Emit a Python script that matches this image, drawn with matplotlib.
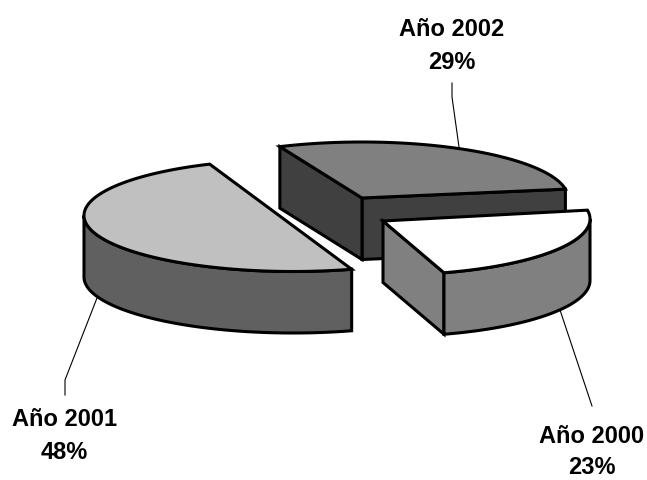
import numpy as np
import matplotlib
matplotlib.use("Agg")
import matplotlib.pyplot as plt
from matplotlib.patches import Polygon

plt.rcParams['font.family'] = ['Liberation Sans', 'DejaVu Sans']

# data
labels = ['Año 2001', 'Año 2000', 'Año 2002']
shares = [48, 23, 29]
pct_labels = ['48%', '23%', '29%']

# style
top_colors = ['#c0c0c0', '#ffffff', '#808080']
rim_colors = ['#606060', '#808080', '#404040']
centers = [(293, 215.5), (387, 219), (362, 198)]
apexes = [None, (383, 221), (362, 198)]
radii = [209, 203, 206]
RY, DEPTH = 56, 61.5
START = 113.5
LW = 2.2

fig = plt.figure(figsize=(6.47, 4.8), dpi=100)
ax = fig.add_axes([0, 0, 1, 1])
ax.set_xlim(0, 647)
ax.set_ylim(480, 0)
ax.axis('off')


def rim(c, rx, a0, a1, dz=0.0):
    t = np.radians(np.linspace(a0, a1, max(int(abs(a1 - a0)) * 2, 2)))
    return np.column_stack([c[0] + rx * np.cos(t), c[1] - RY * np.sin(t) + dz])


def poly(pts, color, z):
    ax.add_patch(Polygon(pts, closed=True, facecolor=color, edgecolor='black',
                         lw=LW, joinstyle='miter', zorder=z))


# leader lines (behind the pie)
leaders = [([97, 65, 65], [298, 380, 395]),
           ([560, 592], [310, 406]),
           ([459, 452, 452], [147, 97, 83])]
for xs, ys in leaders:
    ax.plot(xs, ys, color='black', lw=0.8, zorder=1)

# angular extent of each slice, from the shares
bounds = START + np.cumsum([0] + shares) / sum(shares) * 360
spans = list(zip(bounds[:-1], bounds[1:]))
order = [2, 0, 1]  # back to front

for k, i in enumerate(order):
    c, rx = centers[i], radii[i]
    a0, a1 = spans[i]
    z = 2 + k
    arc = rim(c, rx, a0, a1)
    down = np.array([0, DEPTH])

    # cut faces turned towards the viewer
    if apexes[i] is not None:
        apex = np.array(apexes[i], dtype=float)
        poly([apex, arc[0], arc[0] + down, apex + down], rim_colors[i], z)
        if i == 2:
            poly([apex, arc[-1], arc[-1] + down, apex + down], rim_colors[i], z)

    # outer wall, front half only
    w0, w1 = max(a0, 180), min(a1, 360)
    if w1 > w0:
        poly(np.vstack([rim(c, rx, w0, w1), rim(c, rx, w1, w0, DEPTH)]), rim_colors[i], z)

    # top face
    pts = arc if apexes[i] is None else np.vstack([[apexes[i]], arc])
    poly(pts, top_colors[i], z)

# labels
label_pos = [(64.5, 426, 33), (592, 443, 31), (452, 36, 33)]
for name, pct, (x, y, gap) in zip(labels, pct_labels, label_pos):
    ax.text(x, y, name, ha='center', va='baseline', fontsize=17,
            fontweight='bold', color='black', zorder=10)
    ax.text(x, y + gap, pct, ha='center', va='baseline', fontsize=17,
            fontweight='bold', color='black', zorder=10)

fig.savefig('out.png', dpi=100, facecolor='white')
